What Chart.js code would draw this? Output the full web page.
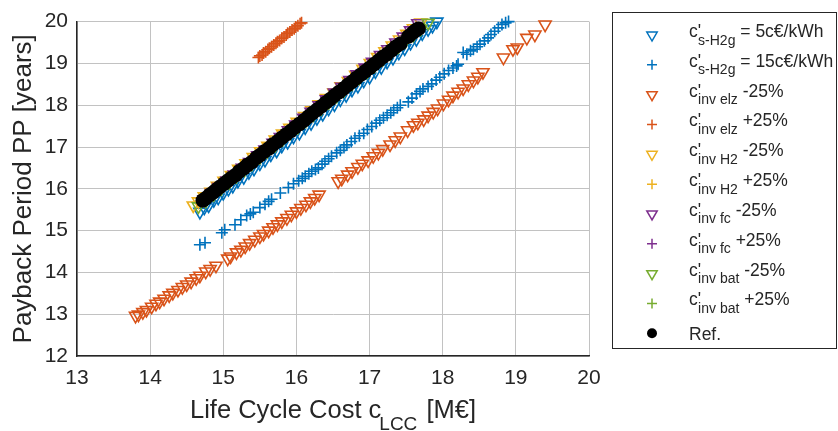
<!DOCTYPE html>
<html>
<head>
<meta charset="utf-8">
<script src="https://cdn.jsdelivr.net/npm/chart.js@4/dist/chart.umd.min.js"></script>
<style>
  html, body { margin: 0; padding: 0; background: #fff; }
  #wrap { width: 838px; height: 431px; }
</style>
</head>
<body>
<div id="wrap"><canvas id="chart" width="838" height="431"></canvas></div>
<script>
/* ---------------------------- data ---------------------------- */
const xTicks = [13, 14, 15, 16, 17, 18, 19, 20];
const yTicks = [12, 13, 14, 15, 16, 17, 18, 19, 20];

// c's-H2g = 5c€/kWh
const s5Pts = [[14.68,15.45],[14.74,15.55],[14.80,15.60],[14.87,15.73],[14.93,15.79],[15.00,15.90],[15.07,16.00],[15.13,16.07],[15.20,16.19],[15.28,16.28],[15.35,16.40],[15.42,16.48],[15.50,16.61],[15.57,16.69],[15.65,16.82],[15.73,16.91],[15.80,17.03],[15.88,17.12],[15.96,17.25],[16.04,17.34],[16.12,17.47],[16.20,17.57],[16.28,17.69],[16.36,17.79],[16.44,17.92],[16.52,18.02],[16.60,18.14],[16.68,18.24],[16.76,18.37],[16.84,18.46],[16.92,18.59],[17.00,18.68],[17.08,18.81],[17.16,18.91],[17.24,19.04],[17.32,19.13],[17.40,19.26],[17.48,19.36],[17.56,19.49],[17.64,19.58],[17.72,19.72],[17.80,19.82],[17.86,19.90],[17.92,20.00]];
// c's-H2g = 15c€/kWh
const s15Pts = [[14.68,14.66],[14.75,14.71],[14.98,14.95],[15.02,15.02],[15.16,15.14],[15.24,15.26],[15.32,15.36],[15.37,15.40],[15.41,15.44],[15.50,15.55],[15.57,15.63],[15.62,15.70],[15.66,15.75],[15.78,15.90],[15.89,16.03],[15.96,16.12],[16.03,16.19],[16.08,16.25],[16.12,16.30],[16.17,16.36],[16.21,16.42],[16.26,16.46],[16.30,16.50],[16.35,16.59],[16.39,16.66],[16.44,16.72],[16.48,16.78],[16.55,16.86],[16.60,16.92],[16.65,16.99],[16.69,17.05],[16.75,17.13],[16.80,17.21],[16.86,17.27],[16.92,17.33],[16.97,17.42],[17.03,17.49],[17.09,17.57],[17.14,17.64],[17.19,17.70],[17.24,17.76],[17.29,17.82],[17.33,17.88],[17.38,17.94],[17.42,18.00],[17.53,18.08],[17.58,18.17],[17.64,18.27],[17.69,18.33],[17.73,18.39],[17.80,18.45],[17.85,18.51],[17.91,18.60],[17.96,18.67],[18.02,18.75],[18.08,18.83],[18.14,18.89],[18.19,18.94],[18.21,18.98],[18.28,19.26],[18.33,19.22],[18.38,19.30],[18.42,19.34],[18.47,19.40],[18.51,19.46],[18.57,19.54],[18.62,19.61],[18.66,19.69],[18.71,19.77],[18.76,19.85],[18.81,19.93],[18.86,19.97],[18.90,20.00]];
// c'inv elz -25%
const elzMinusPts = [[13.80,12.96],[13.84,12.99],[13.90,13.05],[13.95,13.10],[14.02,13.18],[14.08,13.25],[14.13,13.30],[14.19,13.37],[14.26,13.45],[14.31,13.51],[14.38,13.58],[14.44,13.65],[14.50,13.71],[14.56,13.78],[14.63,13.86],[14.68,13.92],[14.76,14.02],[14.82,14.08],[14.90,14.16],[15.06,14.33],[15.10,14.38],[15.18,14.48],[15.24,14.54],[15.30,14.62],[15.36,14.70],[15.43,14.78],[15.50,14.86],[15.55,14.92],[15.62,15.00],[15.68,15.08],[15.74,15.15],[15.80,15.22],[15.87,15.30],[15.93,15.38],[16.00,15.46],[16.06,15.54],[16.13,15.62],[16.19,15.70],[16.25,15.78],[16.31,15.86],[16.57,16.18],[16.62,16.24],[16.70,16.34],[16.76,16.42],[16.84,16.52],[16.90,16.60],[16.98,16.68],[17.05,16.78],[17.12,16.86],[17.18,16.95],[17.28,17.06],[17.35,17.16],[17.42,17.25],[17.52,17.40],[17.60,17.52],[17.66,17.58],[17.74,17.66],[17.80,17.75],[17.87,17.84],[17.93,17.92],[18.01,18.04],[18.08,18.13],[18.14,18.23],[18.21,18.32],[18.28,18.40],[18.35,18.50],[18.42,18.59],[18.48,18.68],[18.55,18.79],[18.83,19.14],[18.96,19.34],[19.02,19.38],[19.15,19.61],[19.26,19.69],[19.40,19.93]];
// c'inv elz +25%
const elzPlusPts = [[15.48,19.14],[15.50,19.18],[15.53,19.20],[15.55,19.25],[15.58,19.28],[15.61,19.33],[15.63,19.36],[15.66,19.40],[15.69,19.44],[15.72,19.48],[15.74,19.52],[15.77,19.55],[15.80,19.60],[15.83,19.63],[15.86,19.68],[15.88,19.72],[15.91,19.75],[15.94,19.80],[15.97,19.83],[15.99,19.87],[16.02,19.90],[16.05,19.95],[16.07,19.97]];
// c'inv H2 -25% / +25%
const h2MinusPts = [[14.59,15.60],[14.66,15.70],[14.74,15.82],[14.83,15.93],[14.92,16.07],[15.01,16.19],[15.11,16.33],[15.21,16.48],[15.31,16.61],[15.41,16.76],[15.51,16.90],[15.61,17.03],[15.71,17.18],[15.81,17.32],[15.91,17.46],[16.01,17.60],[16.11,17.74],[16.21,17.88],[16.31,18.02],[16.41,18.17],[16.51,18.30],[16.61,18.45],[16.71,18.58],[16.81,18.73],[16.91,18.87],[17.01,19.01],[17.11,19.15],[17.21,19.29],[17.31,19.43],[17.41,19.57],[17.51,19.71],[17.60,19.84],[17.70,19.98]];
const h2PlusPts = [[14.70,15.70],[14.85,15.92],[15.00,16.11],[15.15,16.34],[15.30,16.53],[15.45,16.76],[15.60,16.95],[15.75,17.18],[15.90,17.37],[16.05,17.60],[16.20,17.79],[16.35,18.02],[16.50,18.20],[16.65,18.43],[16.80,18.62],[16.95,18.85],[17.10,19.04],[17.25,19.27],[17.40,19.46],[17.52,19.65],[17.62,19.78]];
// c'inv fc -25% / +25%
const fcMinusPts = [[14.74,15.75],[14.84,15.90],[14.94,16.04],[15.05,16.20],[15.15,16.34],[15.26,16.50],[15.36,16.64],[15.47,16.80],[15.57,16.94],[15.68,17.10],[15.78,17.24],[15.89,17.40],[15.99,17.54],[16.10,17.70],[16.20,17.84],[16.31,18.00],[16.41,18.14],[16.52,18.30],[16.62,18.44],[16.73,18.60],[16.83,18.74],[16.94,18.90],[17.04,19.04],[17.15,19.20],[17.25,19.34],[17.36,19.50],[17.46,19.64],[17.56,19.79],[17.66,19.96]];
const fcPlusPts = [[14.73,15.76],[14.88,15.97],[15.03,16.18],[15.18,16.40],[15.33,16.60],[15.48,16.82],[15.63,17.02],[15.78,17.24],[15.93,17.44],[16.08,17.66],[16.23,17.86],[16.38,18.08],[16.53,18.28],[16.68,18.50],[16.83,18.70],[16.98,18.92],[17.13,19.12],[17.28,19.33],[17.43,19.54],[17.55,19.72],[17.64,19.86]];
// c'inv bat -25% / +25%
const batMinusPts = [[14.66,15.58],[14.76,15.71],[14.87,15.87],[14.97,16.01],[15.08,16.16],[15.18,16.31],[15.29,16.46],[15.39,16.60],[15.50,16.76],[15.60,16.90],[15.71,17.05],[15.81,17.19],[15.92,17.35],[16.02,17.48],[16.13,17.64],[16.23,17.78],[16.34,17.93],[16.44,18.07],[16.55,18.23],[16.65,18.36],[16.76,18.52],[16.86,18.66],[16.97,18.81],[17.07,18.95],[17.18,19.11],[17.28,19.24],[17.39,19.40],[17.49,19.54],[17.60,19.69],[17.70,19.83],[17.80,19.97]];
const batPlusPts = [[14.71,15.71],[14.86,15.93],[15.01,16.13],[15.16,16.35],[15.31,16.55],[15.46,16.77],[15.61,16.97],[15.76,17.19],[15.91,17.39],[16.06,17.61],[16.21,17.81],[16.36,18.03],[16.51,18.23],[16.66,18.45],[16.81,18.65],[16.96,18.87],[17.11,19.07],[17.26,19.29],[17.41,19.49],[17.54,19.67],[17.64,19.80]];
// Ref.
const refPts = [[14.72,15.72],[14.76,15.77],[14.81,15.85],[14.86,15.91],[14.90,15.97],[14.95,16.04],[15.01,16.12],[15.06,16.19],[15.11,16.26],[15.17,16.33],[15.22,16.42],[15.28,16.49],[15.33,16.57],[15.39,16.64],[15.45,16.74],[15.50,16.80],[15.56,16.89],[15.62,16.96],[15.68,17.06],[15.74,17.13],[15.80,17.22],[15.86,17.30],[15.92,17.38],[15.98,17.47],[16.04,17.55],[16.10,17.63],[16.16,17.72],[16.22,17.81],[16.28,17.89],[16.34,17.97],[16.40,18.06],[16.46,18.14],[16.52,18.23],[16.58,18.31],[16.64,18.39],[16.70,18.48],[16.76,18.56],[16.82,18.65],[16.88,18.73],[16.94,18.81],[17.00,18.89],[17.06,18.98],[17.12,19.06],[17.18,19.15],[17.24,19.22],[17.30,19.31],[17.36,19.40],[17.42,19.47],[17.53,19.64],[17.59,19.73],[17.63,19.79],[17.67,19.83]];

// legend text: main part, subscript, suffix
const legendMain = ["c'", "c'", "c'", "c'", "c'", "c'", "c'", "c'", "c'", "c'", "Ref."];
const legendSub = ['s-H2g', 's-H2g', 'inv elz', 'inv elz', 'inv H2', 'inv H2', 'inv fc', 'inv fc', 'inv bat', 'inv bat', ''];
const legendSuffix = [' = 5c€/kWh', ' = 15c€/kWh', ' -25%', ' +25%', ' -25%', ' +25%', ' -25%', ' +25%', ' -25%', ' +25%', ''];

const xTitle = ['Life Cycle Cost c', 'LCC', ' [M€]'];
const yTitle = 'Payback Period PP [years]';

/* ---------------------------- styles ---------------------------- */
const seriesData = [s5Pts, s15Pts, elzMinusPts, elzPlusPts, h2MinusPts, h2PlusPts,
                    fcMinusPts, fcPlusPts, batMinusPts, batPlusPts, refPts];
const seriesColor = ['#0072BD', '#0072BD', '#D95319', '#D95319', '#EDB120', '#EDB120',
                     '#7E2F8E', '#7E2F8E', '#77AC30', '#77AC30', '#000000'];
const seriesMarker = ['tri', 'plus', 'tri', 'plus', 'tri', 'plus', 'tri', 'plus', 'tri', 'plus', 'dot'];

const FONT = '"Liberation Sans", Arial, Helvetica, sans-serif';
const TEXT = '#262626';

const datasets = seriesData.map((pts, i) => {
    const m = seriesMarker[i];
    return {
        label: legendMain[i] + legendSub[i] + legendSuffix[i],
        data: pts.map(p => ({x: p[0], y: p[1]})),
        order: seriesData.length - 1 - i,      // later series on top, like matlab
        clip: false,
        pointStyle: m === 'tri' ? 'triangle' : (m === 'plus' ? 'cross' : 'circle'),
        rotation: m === 'tri' ? 180 : 0,
        pointRadius: m === 'tri' ? 7 : (m === 'plus' ? 6 : 7.3),
        pointBorderWidth: m === 'dot' ? 0 : 1.6,
        pointBorderColor: seriesColor[i],
        pointBackgroundColor: m === 'dot' ? seriesColor[i] : 'rgba(0,0,0,0)',
        showLine: false
    };
});

/* ---------------------------- titles + legend ---------------------------- */
function drawMarker(ctx, m, color, x, y) {
    ctx.save();
    ctx.strokeStyle = color;
    ctx.fillStyle = color;
    ctx.lineWidth = 1.5;
    ctx.beginPath();
    if (m === 'tri') {
        const r = 6;
        ctx.moveTo(x, y + r);
        ctx.lineTo(x - r * 0.866, y - r / 2);
        ctx.lineTo(x + r * 0.866, y - r / 2);
        ctx.closePath();
        ctx.stroke();
    } else if (m === 'plus') {
        const r = 5;
        ctx.moveTo(x - r, y); ctx.lineTo(x + r, y);
        ctx.moveTo(x, y - r); ctx.lineTo(x, y + r);
        ctx.stroke();
    } else {
        ctx.arc(x, y, 5, 0, Math.PI * 2);
        ctx.fill();
    }
    ctx.restore();
}

const decorPlugin = {
    id: 'decor',
    afterDraw(chart) {
        const ctx = chart.ctx;
        const area = chart.chartArea;
        ctx.save();
        ctx.fillStyle = TEXT;
        ctx.textBaseline = 'alphabetic';

        // x title with subscript
        const mainF = '25.5px ' + FONT, subF = '19px ' + FONT;
        ctx.font = mainF; const w0 = ctx.measureText(xTitle[0]).width;
        ctx.font = subF;  const w1 = ctx.measureText(xTitle[1]).width;
        ctx.font = mainF; const w2 = ctx.measureText(xTitle[2]).width;
        let tx = (area.left + area.right) / 2 - (w0 + w1 + w2) / 2;
        ctx.textAlign = 'left';
        ctx.font = mainF; ctx.fillText(xTitle[0], tx, 418); tx += w0;
        ctx.font = subF;  ctx.fillText(xTitle[1], tx - 2, 430); tx += w1;
        ctx.font = mainF; ctx.fillText(xTitle[2], tx, 418);

        // y title
        ctx.save();
        ctx.translate(31, (area.top + area.bottom) / 2);
        ctx.rotate(-Math.PI / 2);
        ctx.textAlign = 'center';
        ctx.font = '26px ' + FONT;
        ctx.fillText(yTitle, 0, 0);
        ctx.restore();

        // legend box
        ctx.strokeStyle = TEXT;
        ctx.lineWidth = 1;
        ctx.strokeRect(612.5, 12.5, 224, 336);
        const rowH = 29.83;
        for (let i = 0; i < legendMain.length; i++) {
            const cy = 35 + i * rowH;
            drawMarker(ctx, seriesMarker[i], seriesColor[i], 652, cy);
            ctx.fillStyle = TEXT;
            ctx.textAlign = 'left';
            let lx = 689;
            if (!legendSub[i]) {
                ctx.font = '17.5px ' + FONT;
                ctx.fillText(legendMain[i], lx, cy + 6.5);
                continue;
            }
            ctx.font = '17.5px ' + FONT;
            ctx.fillText(legendMain[i], lx, cy + 2);
            lx += ctx.measureText(legendMain[i]).width - 3;
            ctx.font = '14px ' + FONT;
            ctx.fillText(legendSub[i], lx, cy + 9.5);
            lx += ctx.measureText(legendSub[i]).width;
            ctx.font = '17.5px ' + FONT;
            ctx.fillText(legendSuffix[i], lx, cy + 2);
        }
        ctx.restore();
    }
};

/* ---------------------------- chart ---------------------------- */
const tickFont = {family: FONT, size: 21};
new Chart(document.getElementById('chart'), {
    type: 'scatter',
    data: {datasets: datasets},
    options: {
        responsive: false,
        animation: false,
        events: [],
        layout: {padding: {top: 17, right: 249, left: 0, bottom: 0}},
        plugins: {legend: {display: false}, tooltip: {enabled: false}, title: {display: false}},
        scales: {
            x: {
                type: 'linear', min: 13, max: 20,
                afterBuildTicks: s => { s.ticks = xTicks.map(v => ({value: v})); },
                afterFit: s => { s.height = 75; },
                ticks: {font: tickFont, color: TEXT, padding: 10, maxRotation: 0},
                grid: {color: '#c2c2c2', lineWidth: 1, drawTicks: false},
                border: {color: TEXT, width: 1.5}
            },
            y: {
                type: 'linear', min: 12, max: 20,
                afterBuildTicks: s => { s.ticks = yTicks.map(v => ({value: v})); },
                afterFit: s => { s.width = 77; },
                ticks: {font: tickFont, color: TEXT, padding: 9},
                grid: {color: '#c2c2c2', lineWidth: 1, drawTicks: false},
                border: {color: TEXT, width: 1.5}
            }
        }
    },
    plugins: [decorPlugin]
});
</script>
</body>
</html>
